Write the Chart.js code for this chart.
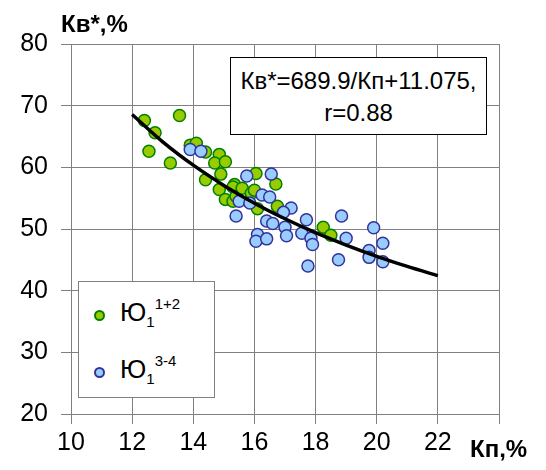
<!DOCTYPE html>
<html lang="ru">
<head>
  <meta charset="UTF-8" />
  <title>Кв* от Кп</title>
  <script src="https://cdn.jsdelivr.net/npm/chart.js"></script>
  <style>
    html, body {
      margin: 0;
      padding: 0;
      background: #fff;
      font-family: 'Liberation Sans', Arial, sans-serif;
      color: #000;
    }
    .wrap {
      position: relative;
      width: 546px;
      height: 470px;
    }
    canvas { display: block; }
    .title {
      position: absolute;
      font-weight: bold;
      font-size: 24px;
      line-height: 1;
      white-space: nowrap;
    }
    .note {
      position: absolute;
      left: 230px;
      top: 57px;
      width: 257px;
      height: 78px;
      border: 1px solid #000;
      background: #fff;
      font-size: 24px;
      line-height: 32px;
      text-align: center;
      box-sizing: border-box;
      padding-top: 7px;
    }
    .legend {
      position: absolute;
      left: 78px;
      top: 281px;
      width: 137px;
      height: 117px;
      border: 1px solid #808080;
      background: #fff;
      box-sizing: border-box;
    }
    .legend .item {
      position: absolute;
      left: 0;
      font-size: 26px;
      line-height: 1;
      white-space: nowrap;
    }
    .legend .dot {
      position: absolute;
      left: 15px;
      width: 11px;
      height: 11px;
      border-radius: 50%;
      box-sizing: border-box;
      border: 2px solid;
    }
    .legend .lbl {
      position: absolute;
      left: 41px;
    }
    .legend sub { font-size: 15px; vertical-align: -6px; }
    .legend sup { font-size: 15px; vertical-align: 12px; }
  </style>
</head>
<body>
  <div class="wrap">
    <canvas id="chart" width="546" height="470"></canvas>
    <div class="title" style="left:61px; top:12px;">Кв*,%</div>
    <div class="title" style="left:470px; top:437px;">Кп,%</div>
    <div class="note">Кв*=689.9/Кп+11.075,<br>r=0.88</div>
    <div class="legend">
      <div class="item" style="top:14px;">
        <span class="dot" style="top:14px; background:#99cc00; border-color:#008000;"></span>
        <span class="lbl">Ю<sub>1</sub><sup>1+2</sup></span>
      </div>
      <div class="item" style="top:71px;">
        <span class="dot" style="top:14px; background:#99ccff; border-color:#333399;"></span>
        <span class="lbl">Ю<sub>1</sub><sup>3-4</sup></span>
      </div>
    </div>
  </div>

  <script>
    // Ю1 1+2 (green)
    const greenX = [12.4, 13.55, 12.75, 12.55, 13.25, 13.9, 14.1, 14.4, 14.4, 14.85,
                    14.7, 15.05, 14.9, 14.85, 15.05, 15.3, 15.35, 15.3, 15.4, 15.6,
                    15.9, 16.0, 16.05, 16.1, 16.7, 16.75, 18.25, 18.5];
    const greenY = [67.6, 68.4, 65.6, 62.6, 60.7, 63.6, 63.9, 62.5, 58.0, 62.1,
                    60.7, 60.9, 58.9, 56.4, 54.8, 54.5, 57.2, 56.8, 55.3, 56.6,
                    55.8, 56.3, 59.0, 53.3, 57.3, 53.7, 50.3, 49.0];

    // Ю1 3-4 (blue)
    const blueX = [13.9, 14.25, 15.75, 16.55, 15.5, 15.85, 16.25, 16.5, 15.4, 16.4,
                   16.6, 17.2, 16.95, 17.0, 16.1, 16.05, 16.4, 17.05, 17.55, 17.7,
                   17.85, 17.9, 17.75, 18.85, 19.0, 18.75, 19.9, 20.2, 19.75, 19.75, 20.2];
    const blueY = [62.9, 62.6, 58.6, 58.9, 54.5, 54.2, 55.5, 55.2, 52.1, 51.3,
                   50.9, 53.4, 52.7, 50.3, 49.1, 48.0, 48.4, 48.9, 49.3, 51.5,
                   48.5, 47.5, 44.0, 52.1, 48.5, 45.0, 50.2, 47.7, 46.5, 45.4, 44.7];

    // trend curve Кв* = 689.9/Кп + 11.075
    const fitX = [12, 13, 14, 15, 16, 17, 18, 19, 20, 21, 22];
    const fitY = [68.57, 64.14, 60.35, 57.07, 54.19, 51.66, 49.40, 47.39, 45.57, 43.93, 42.43];

    const xTicks = [10, 12, 14, 16, 18, 20, 22];

    const pts = (xs, ys) => xs.map((x, i) => ({ x: x, y: ys[i] }));
    const font = { family: "'Liberation Sans', Arial, sans-serif", size: 25 };

    new Chart(document.getElementById('chart').getContext('2d'), {
      type: 'scatter',
      data: {
        datasets: [
          {
            label: 'fit',
            data: pts(fitX, fitY),
            showLine: true,
            borderColor: '#000',
            borderWidth: 3.5,
            pointRadius: 0,
            tension: 0.4,
            cubicInterpolationMode: 'monotone'
          },
          {
            label: 'Ю1 3-4',
            data: pts(blueX, blueY),
            backgroundColor: '#99ccff',
            borderColor: '#333399',
            borderWidth: 1.5,
            pointRadius: 6
          },
          {
            label: 'Ю1 1+2',
            data: pts(greenX, greenY),
            backgroundColor: '#99cc00',
            borderColor: '#008000',
            borderWidth: 1.5,
            pointRadius: 6
          }
        ]
      },
      options: {
        responsive: false,
        animation: false,
        layout: { padding: { top: 44, right: 47, left: 0, bottom: 0 } },
        plugins: {
          legend: { display: false },
          tooltip: { enabled: false }
        },
        scales: {
          x: {
            type: 'linear',
            min: 10,
            max: 24,
            afterFit: s => { s.height = 56; },
            afterBuildTicks: s => { s.ticks = xTicks.concat([24]).map(v => ({ value: v })); },
            ticks: {
              font: font,
              color: '#000',
              padding: 4,
              maxRotation: 0,
              callback: v => (xTicks.includes(v) ? v : '')
            },
            grid: { color: '#808080', tickLength: 10, tickColor: '#808080' },
            border: { color: '#808080' }
          },
          y: {
            min: 20,
            max: 80,
            afterFit: s => { s.width = 71; },
            ticks: { stepSize: 10, font: font, color: '#000', padding: 13 },
            grid: { color: '#808080', tickLength: 10, tickColor: '#808080' },
            border: { color: '#808080' }
          }
        }
      }
    });
  </script>
</body>
</html>
